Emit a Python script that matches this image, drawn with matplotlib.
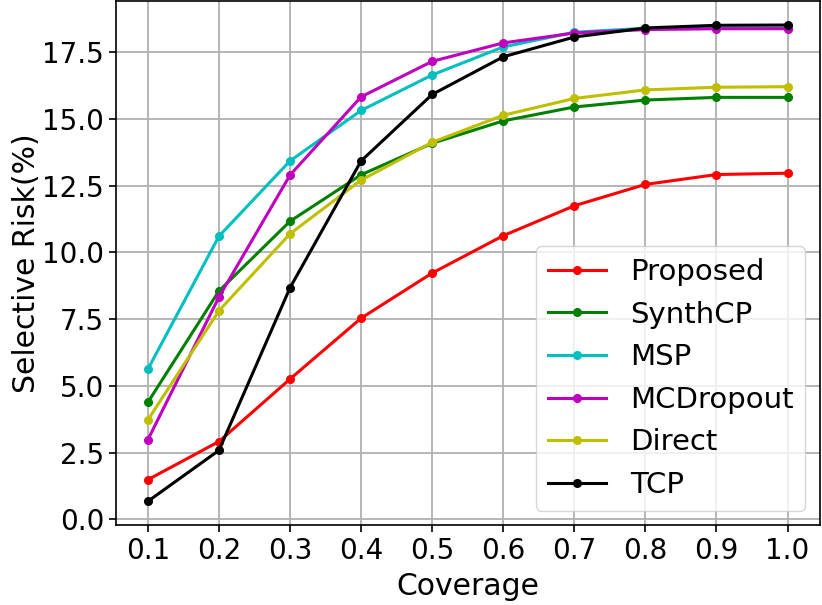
import matplotlib

matplotlib.use("Agg")
import matplotlib.pyplot as plt

coverage = [0.1, 0.2, 0.3, 0.4, 0.5, 0.6, 0.7, 0.8, 0.9, 1.0]

proposed = [1.49, 2.92, 5.26, 7.54, 9.23, 10.63, 11.75, 12.55, 12.92, 12.97]
synthcp = [4.39, 8.56, 11.17, 12.91, 14.09, 14.93, 15.45, 15.71, 15.81, 15.81]
msp = [5.63, 10.61, 13.43, 15.32, 16.65, 17.70, 18.25, 18.40, 18.40, 18.40]
mcdropout = [2.99, 8.33, 12.90, 15.83, 17.16, 17.85, 18.22, 18.35, 18.38, 18.38]
direct = [3.73, 7.82, 10.70, 12.71, 14.13, 15.14, 15.77, 16.09, 16.19, 16.21]
tcp = [0.68, 2.59, 8.68, 13.43, 15.92, 17.33, 18.07, 18.41, 18.51, 18.52]

series = [
    ("Proposed", proposed, "r"),
    ("SynthCP", synthcp, "g"),
    ("MSP", msp, "c"),
    ("MCDropout", mcdropout, "m"),
    ("Direct", direct, "y"),
    ("TCP", tcp, "k"),
]

fig, ax = plt.subplots(figsize=(8.22, 6.05), dpi=100)
fig.subplots_adjust(left=0.141, right=0.997, top=0.998, bottom=0.132)

for name, ys, c in series:
    ax.plot(coverage, ys, color=c, marker="o", markersize=5.5, linewidth=2.2, label=name)

ax.set_xticks(coverage)
ax.set_xticklabels([f"{x:.1f}" for x in coverage])
ax.tick_params(labelsize=20, width=1.2, length=5)
ax.set_xlabel("Coverage", fontsize=21.5, labelpad=5)
ax.set_ylabel("Selective Risk(%)", fontsize=21.5, labelpad=1)
ax.grid(True, color="#b0b0b0", linewidth=1.3)
for s in ax.spines.values():
    s.set_linewidth(1.2)
ax.legend(loc="lower right", fontsize=21, handlelength=2.0)

fig.savefig("out.png", dpi=100)
